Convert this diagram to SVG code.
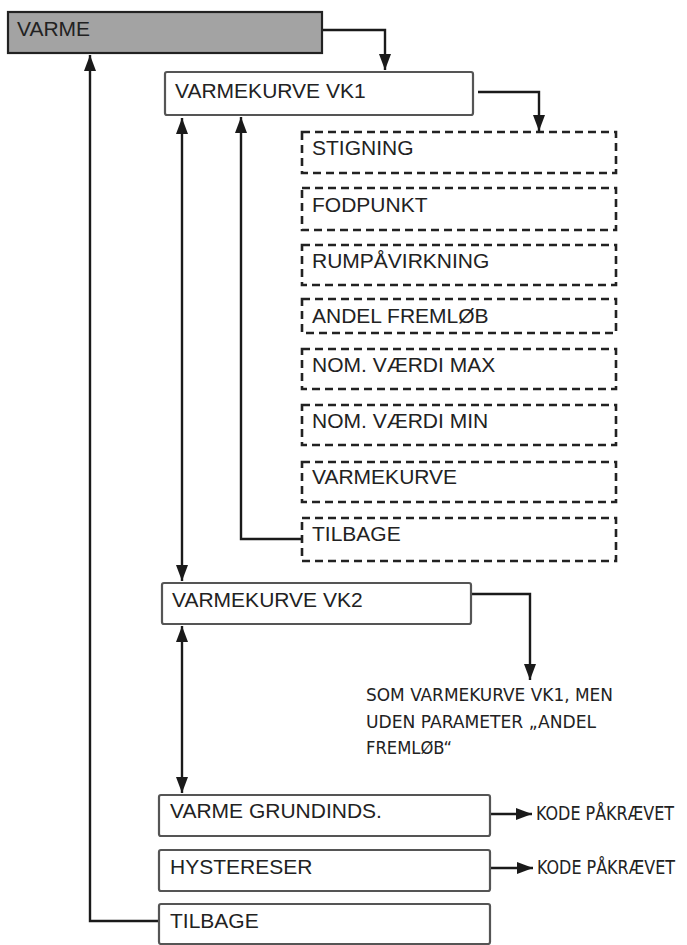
<svg xmlns="http://www.w3.org/2000/svg" width="687" height="945" viewBox="0 0 687 945">
<defs>
<marker id="ar" viewBox="0 0 16 12" refX="16" refY="6" markerWidth="16" markerHeight="12" markerUnits="userSpaceOnUse" orient="auto-start-reverse">
<path d="M0,0 L16,6 L0,12 Z" fill="#1a1a1a"/>
</marker>
<style>
.box{fill:#fff;stroke:#555;stroke-width:2.2}
.top{fill:#a3a3a3;stroke:#222;stroke-width:2.2}
.dash{fill:#fff;stroke:#222;stroke-width:2.6;stroke-dasharray:8 5}
.lbl{font-family:"Liberation Sans",Arial,sans-serif;font-size:21px;fill:#222}
.cnd{font-family:"DejaVu Sans Condensed","DejaVu Sans",sans-serif;font-stretch:condensed;font-size:18.5px;fill:#222}
.kode{font-family:"DejaVu Sans Condensed","DejaVu Sans",sans-serif;font-stretch:condensed;font-size:19px;fill:#222}
.ln{fill:none;stroke:#1a1a1a;stroke-width:2.4}
</style>
</defs>
<g id="connectors">
<path class="ln" d="M322,30 H385 V70" marker-end="url(#ar)"/>
<path class="ln" d="M478,92 H539 V131" marker-end="url(#ar)"/>
<path class="ln" d="M182,118 V581" marker-start="url(#ar)" marker-end="url(#ar)"/>
<path class="ln" d="M302,539 H241 V117" marker-end="url(#ar)"/>
<path class="ln" d="M471,594 H530 V680" marker-end="url(#ar)"/>
<path class="ln" d="M182,626 V793" marker-start="url(#ar)" marker-end="url(#ar)"/>
<path class="ln" d="M490,814 H532" marker-end="url(#ar)"/>
<path class="ln" d="M490,868 H533" marker-end="url(#ar)"/>
<path class="ln" d="M159,921 H90 V55" marker-end="url(#ar)"/>
</g>
<g id="varme"><rect class="top" x="8" y="12" width="314" height="41"/><text class="lbl" x="17" y="36">VARME</text></g>
<g id="vk1"><rect class="box" x="165" y="72" width="308" height="43" rx="2"/><text class="lbl" x="175" y="98">VARMEKURVE VK1</text></g>
<g id="stigning"><rect class="dash" x="302" y="132" width="314" height="41"/><text class="lbl" x="312" y="155">STIGNING</text></g>
<g id="fodpunkt"><rect class="dash" x="302" y="188" width="314" height="42"/><text class="lbl" x="312" y="212">FODPUNKT</text></g>
<g id="rump"><rect class="dash" x="302" y="245" width="314" height="40"/><text class="lbl" x="312" y="268">RUMPÅVIRKNING</text></g>
<g id="andel"><rect class="dash" x="302" y="299" width="314" height="34"/><text class="lbl" x="312" y="323">ANDEL FREMLØB</text></g>
<g id="nommax"><rect class="dash" x="302" y="349" width="314" height="40"/><text class="lbl" x="312" y="372">NOM. VÆRDI MAX</text></g>
<g id="nommin"><rect class="dash" x="302" y="405" width="314" height="40"/><text class="lbl" x="312" y="428">NOM. VÆRDI MIN</text></g>
<g id="varmekurve"><rect class="dash" x="302" y="462" width="314" height="40"/><text class="lbl" x="312" y="484">VARMEKURVE</text></g>
<g id="tilbage1"><rect class="dash" x="302" y="518" width="314" height="43"/><text class="lbl" x="312" y="541">TILBAGE</text></g>
<g id="vk2"><rect class="box" x="162" y="583" width="309" height="41" rx="2"/><text class="lbl" x="172" y="607">VARMEKURVE VK2</text></g>
<g id="note"><text class="cnd" x="366" y="701" textLength="247" lengthAdjust="spacingAndGlyphs">SOM VARMEKURVE VK1, MEN</text><text class="cnd" x="366" y="728" textLength="230" lengthAdjust="spacingAndGlyphs">UDEN PARAMETER „ANDEL</text><text class="cnd" x="366" y="754" textLength="86" lengthAdjust="spacingAndGlyphs">FREMLØB“</text></g>
<g id="grund"><rect class="box" x="159" y="795" width="331" height="41" rx="2"/><text class="lbl" x="170" y="818">VARME GRUNDINDS.</text><text class="kode" x="536" y="820" textLength="138" lengthAdjust="spacingAndGlyphs">KODE PÅKRÆVET</text></g>
<g id="hyst"><rect class="box" x="159" y="850" width="331" height="41" rx="2"/><text class="lbl" x="170" y="874">HYSTERESER</text><text class="kode" x="537" y="874" textLength="138" lengthAdjust="spacingAndGlyphs">KODE PÅKRÆVET</text></g>
<g id="tilbage2"><rect class="box" x="159" y="904" width="331" height="40" rx="2"/><text class="lbl" x="170" y="928">TILBAGE</text></g>
</svg>
